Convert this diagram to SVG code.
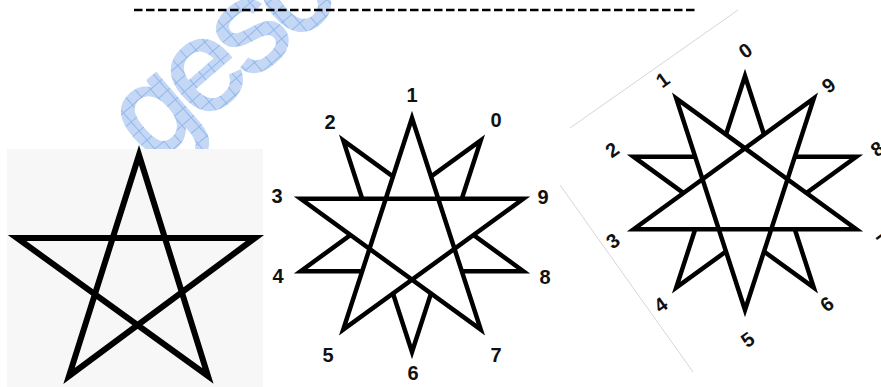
<svg xmlns="http://www.w3.org/2000/svg" width="881" height="387" viewBox="0 0 881 387">
<defs>
<pattern id="grid" width="12" height="12" patternUnits="userSpaceOnUse">
<rect width="12" height="12" fill="#c4d8f5"/>
<path d="M0 0.5H12M0.5 0V12" stroke="#93b6ea" stroke-width="1" fill="none"/>
</pattern>
<g id="star10">
<path d="M-68.77,-94.65 L0,117 L68.77,-94.65 L-111.28,36.15 L111.28,36.15 Z" fill="none" stroke="#000" stroke-width="4.5" stroke-linejoin="miter" stroke-miterlimit="20"/>
<path d="M0,-117 L-68.77,94.65 L111.28,-36.15 L-111.28,-36.15 L68.77,94.65 Z" fill="#fff" stroke="#000" stroke-width="4.5" stroke-linejoin="miter" stroke-miterlimit="20"/>
</g>
</defs>
<style>
.lbl{font-family:"Liberation Sans",Arial,sans-serif;font-weight:bold;font-size:20px;fill:#111;text-anchor:middle}
.wm{font-family:"Liberation Sans",Arial,sans-serif;font-size:128px;letter-spacing:-7px;fill:url(#grid);stroke:url(#grid);stroke-width:3px}
</style>
<rect width="881" height="387" fill="#fff"/>
<g id="watermark">
<text class="wm" transform="translate(153,166) rotate(-41)">gesc</text>
</g>
<line id="dashes" x1="134" y1="10" x2="698" y2="10" stroke="#000" stroke-width="2.5" stroke-dasharray="8.5 3.5"/>
<g id="faint-frame" stroke="#d6d6d6" stroke-width="1">
<line x1="738" y1="10" x2="570" y2="128"/>
<line x1="560" y1="185" x2="693" y2="372"/>
</g>
<g id="pentagram">
<rect x="7" y="149" width="256" height="238" fill="#f7f7f7"/>
<path d="M139,155 L208,376 L17,238 L255,238 L69,376 Z" fill="none" stroke="#000" stroke-width="6" stroke-linejoin="miter" stroke-miterlimit="20"/>
</g>
<g id="star-middle" transform="translate(412,235)">
<use href="#star10"/>
<text class="lbl" x="0" y="-133">1</text>
<text class="lbl" x="-82" y="-106">2</text>
<text class="lbl" x="84" y="-108">0</text>
<text class="lbl" x="-135" y="-32">3</text>
<text class="lbl" x="131" y="-31">9</text>
<text class="lbl" x="-134" y="48">4</text>
<text class="lbl" x="133" y="49">8</text>
<text class="lbl" x="-84" y="127">5</text>
<text class="lbl" x="84" y="127">7</text>
<text class="lbl" x="1" y="145">6</text>
</g>
<g id="star-rotated" transform="translate(745,193) rotate(-36)">
<use href="#star10"/>
<text class="lbl" x="0" y="-133">1</text>
<text class="lbl" x="-82" y="-106">2</text>
<text class="lbl" x="84" y="-108">0</text>
<text class="lbl" x="-135" y="-32">3</text>
<text class="lbl" x="131" y="-31">9</text>
<text class="lbl" x="-134" y="48">4</text>
<text class="lbl" x="133" y="49">8</text>
<text class="lbl" x="-84" y="127">5</text>
<text class="lbl" x="84" y="127">7</text>
<text class="lbl" x="1" y="145">6</text>
</g>
</svg>
